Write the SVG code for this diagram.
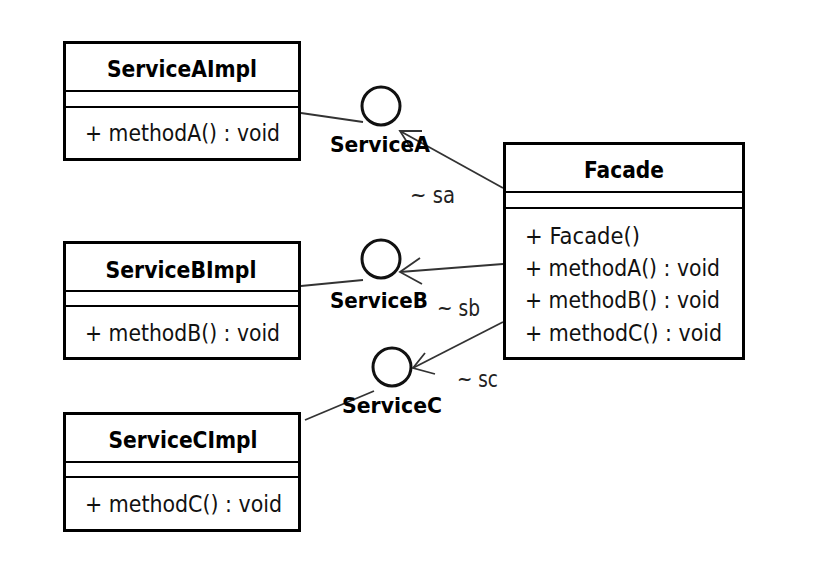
<svg xmlns="http://www.w3.org/2000/svg" width="826" height="578" viewBox="0 0 826 578">
<style>
.box{fill:#fff;stroke:#000;stroke-width:3}
.div{stroke:#000;stroke-width:2}
.title{font-family:"DejaVu Sans",sans-serif;font-weight:bold;font-size:22.5px;text-anchor:middle;fill:#000}
.mem{font-family:"DejaVu Sans",sans-serif;font-size:23.5px;fill:#111}
.lbl{font-family:"DejaVu Sans",sans-serif;font-weight:bold;font-size:21px;text-anchor:middle;fill:#000}
.role{font-family:"DejaVu Sans",sans-serif;font-size:23.5px;fill:#222}
.conn{stroke:#333;stroke-width:1.8;fill:none}
.iface{fill:#fff;stroke:#111;stroke-width:3}
</style>
<rect width="826" height="578" fill="#fff"/>
<g id="connectors">
<line class="conn" x1="301" y1="113" x2="363" y2="122"/>
<line class="conn" x1="503" y1="188" x2="400" y2="131"/>
<polyline class="conn" points="422,131 400,131 412,150"/>
<line class="conn" x1="301" y1="286" x2="363" y2="280"/>
<line class="conn" x1="503" y1="264" x2="400" y2="272"/>
<polyline class="conn" points="420,258 400,272 422,284"/>
<line class="conn" x1="305" y1="420" x2="374" y2="391"/>
<line class="conn" x1="503" y1="322" x2="413" y2="368"/>
<polyline class="conn" points="425,353 413,368 435,374"/>
</g>
<g id="ServiceAImpl">
<rect class="box" x="64.5" y="42.5" width="235" height="117"/>
<line class="div" x1="64" y1="91" x2="300" y2="91"/>
<line class="div" x1="64" y1="107" x2="300" y2="107"/>
<text class="title" x="182" y="77" textLength="150" lengthAdjust="spacingAndGlyphs">ServiceAImpl</text>
<text class="mem" x="85" y="141" textLength="195" lengthAdjust="spacingAndGlyphs">+ methodA() : void</text>
</g>
<g id="ServiceBImpl">
<rect class="box" x="64.5" y="242.5" width="235" height="116"/>
<line class="div" x1="64" y1="291" x2="300" y2="291"/>
<line class="div" x1="64" y1="306" x2="300" y2="306"/>
<text class="title" x="181" y="278" textLength="151" lengthAdjust="spacingAndGlyphs">ServiceBImpl</text>
<text class="mem" x="85" y="341" textLength="195" lengthAdjust="spacingAndGlyphs">+ methodB() : void</text>
</g>
<g id="ServiceCImpl">
<rect class="box" x="64.5" y="413.5" width="235" height="117"/>
<line class="div" x1="64" y1="462" x2="300" y2="462"/>
<line class="div" x1="64" y1="477" x2="300" y2="477"/>
<text class="title" x="183" y="448" textLength="149" lengthAdjust="spacingAndGlyphs">ServiceCImpl</text>
<text class="mem" x="85" y="512" textLength="197" lengthAdjust="spacingAndGlyphs">+ methodC() : void</text>
</g>
<g id="Facade">
<rect class="box" x="504.5" y="143.5" width="239" height="215"/>
<line class="div" x1="504" y1="192" x2="744" y2="192"/>
<line class="div" x1="504" y1="208" x2="744" y2="208"/>
<text class="title" x="624" y="178" textLength="80" lengthAdjust="spacingAndGlyphs">Facade</text>
<text class="mem" x="525" y="244" textLength="115" lengthAdjust="spacingAndGlyphs">+ Facade()</text>
<text class="mem" x="525" y="276" textLength="195" lengthAdjust="spacingAndGlyphs">+ methodA() : void</text>
<text class="mem" x="525" y="308" textLength="195" lengthAdjust="spacingAndGlyphs">+ methodB() : void</text>
<text class="mem" x="525" y="341" textLength="197" lengthAdjust="spacingAndGlyphs">+ methodC() : void</text>
</g>
<g id="ServiceA">
<circle class="iface" cx="381" cy="106" r="19"/>
<text class="lbl" x="380" y="152" textLength="100" lengthAdjust="spacingAndGlyphs">ServiceA</text>
</g>
<g id="ServiceB">
<circle class="iface" cx="381" cy="259" r="19"/>
<text class="lbl" x="379" y="308" textLength="98" lengthAdjust="spacingAndGlyphs">ServiceB</text>
</g>
<g id="ServiceC">
<circle class="iface" cx="392" cy="367" r="19"/>
<text class="lbl" x="392" y="413" textLength="100" lengthAdjust="spacingAndGlyphs">ServiceC</text>
</g>
<g id="roles">
<text class="role" x="410" y="203" textLength="45" lengthAdjust="spacingAndGlyphs">~ sa</text>
<text class="role" x="437" y="316" textLength="43" lengthAdjust="spacingAndGlyphs">~ sb</text>
<text class="role" x="457" y="387" textLength="41" lengthAdjust="spacingAndGlyphs">~ sc</text>
</g>
</svg>
